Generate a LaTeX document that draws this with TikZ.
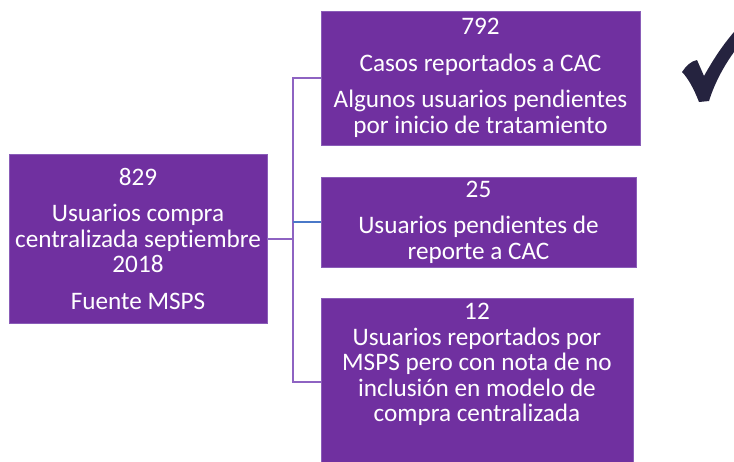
\documentclass[tikz,border=0pt]{standalone}
\usepackage{fontspec}
\setmainfont{Carlito}[Ligatures=NoCommon]
\definecolor{boxpurple}{HTML}{7030A0}
\definecolor{boxedge}{HTML}{8A5DB8}
\definecolor{connpurple}{HTML}{8E63C2}
\definecolor{connblue}{HTML}{4A78C8}
\definecolor{tickcol}{HTML}{25233F}
\begin{document}
\begin{tikzpicture}[x=1pt,y=-1pt,
  box/.style={rectangle, fill=boxpurple, draw=boxedge, line width=0.6pt,
    inner sep=0pt, outer sep=0pt, text=white, align=center,
    font=\fontsize{25.2}{25.5}\selectfont},
  boxtext/.style={inner sep=0pt, text=white, align=center,
    font=\fontsize{25.2}{25.5}\selectfont},
  conn/.style={draw=connpurple, line width=2pt},
  connb/.style={draw=connblue, line width=1.6pt}]
\useasboundingbox (0,0) rectangle (734,461);
\node[box, minimum width=258pt, minimum height=169pt] (L) at (138,238.5)
  {829\\[11pt]Usuarios compra\\centralizada septiembre\\2018\\[11pt]Fuente MSPS};
\node[box, minimum width=319pt, minimum height=134pt] (B1) at (480.5,78)
  {792\\[11pt]Casos reportados a CAC\\[11pt]Algunos usuarios pendientes\\por inicio de tratamiento};
\node[box, minimum width=315pt, minimum height=90pt] (B2) at (478.5,222)
  {25\\[11pt]Usuarios pendientes de\\reporte a CAC};
\node[box, minimum width=312pt, minimum height=166pt] (B3) at (477,381) {};
\node[boxtext, anchor=north] (T3) at ([yshift=-5pt]B3.north)
  {12\\Usuarios reportados por\\MSPS pero con nota de no\\inclusión en modelo de\\compra centralizada};
\coordinate (trunk) at (293,0);
\coordinate (b3in) at (321,382);
\draw[conn] (L.east) -- (L.east -| trunk);
\draw[conn] (L.east -| trunk) |- (B1.west);
\draw[conn] (L.east -| trunk) |- (b3in);
\draw[connb] (B2.west -| trunk) -- (B2.west);
\fill[tickcol] (682,72) .. controls (686,66) and (691,61) .. (697,60)
  -- (704,76) .. controls (713,60) and (722,46) .. (734,32)
  -- (734,52) .. controls (724,66) and (715,82) .. (709,101)
  -- (699,102) .. controls (694,89) and (688,78) .. cycle;
\end{tikzpicture}
\end{document}
